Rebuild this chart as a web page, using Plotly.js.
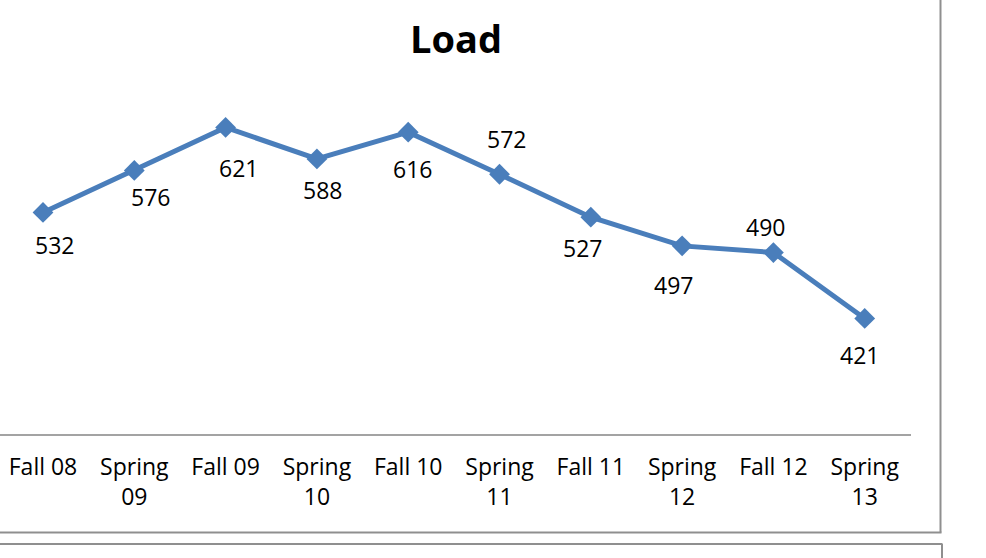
<!DOCTYPE html>
<html>
<head>
<meta charset="utf-8">
<script src="https://cdn.plot.ly/plotly-3.0.1.min.js"></script>
<style>html,body{margin:0;padding:0;background:#fff;}#chart{width:986px;height:558px;}</style>
</head>
<body>
<div id="chart"></div>
<script>
const categories = ["Fall 08", "Spring 09", "Fall 09", "Spring 10", "Fall 10", "Spring 11", "Fall 11", "Spring 12", "Fall 12", "Spring 13"];
const tickLabels = ["Fall 08", "Spring<br>09", "Fall 09", "Spring<br>10", "Fall 10", "Spring<br>11", "Fall 11", "Spring<br>12", "Fall 12", "Spring<br>13"];
const loadValues = [532, 576, 621, 588, 616, 572, 527, 497, 490, 421];

// label placement offsets (styling only), in pixels
const labelShiftX = [11, 16, 13, 6, 4, 7, -8, -9, -8, -5];
const labelShiftY = [-33, -27, -41, -31, -37, 35, -31, -39, 26, -37];

const W = 986, H = 558;
const m = {l: 0, r: 75, t: 52, b: 124};
const pw = W - m.l - m.r, ph = H - m.t - m.b;
const px = v => (v - m.l) / pw;
const py = v => (H - m.b - v) / ph;

const idx = categories.map((c, i) => i);
const lineColor = '#4a7ebb';
const font = 'Open Sans, Lato, sans-serif';

const trace = {
  x: idx,
  y: loadValues,
  type: 'scatter',
  mode: 'lines+markers',
  line: {color: lineColor, width: 5},
  marker: {symbol: 'diamond', size: 16, color: lineColor},
  hoverinfo: 'skip'
};

const annotations = loadValues.map((v, i) => ({
  x: i, y: v, xref: 'x', yref: 'y',
  text: String(v), showarrow: false,
  xshift: labelShiftX[i], yshift: labelShiftY[i],
  font: {family: font, size: 23, color: '#000'}
}));

const border = '#8f8f8f';
const shapes = [
  {type: 'line', xref: 'paper', yref: 'paper', x0: px(940.5), x1: px(940.5), y0: py(-5), y1: py(532.5), line: {color: border, width: 2}},
  {type: 'line', xref: 'paper', yref: 'paper', x0: px(-5), x1: px(941.5), y0: py(532.5), y1: py(532.5), line: {color: border, width: 2}},
  {type: 'line', xref: 'paper', yref: 'paper', x0: px(-5), x1: px(942.5), y0: py(544), y1: py(544), line: {color: border, width: 2}},
  {type: 'line', xref: 'paper', yref: 'paper', x0: px(942), x1: px(942), y0: py(544), y1: py(565), line: {color: border, width: 2}}
];

const layout = {
  width: W, height: H,
  margin: m,
  paper_bgcolor: '#fff', plot_bgcolor: '#fff',
  showlegend: false,
  title: {text: '<b>Load</b>', font: {family: font, size: 38, color: '#000'}, x: 456 / W, xanchor: 'center', y: 1 - 40 / H, yanchor: 'middle'},
  xaxis: {
    range: [-0.471, 9.507],
    tickvals: idx, ticktext: tickLabels,
    showgrid: false, zeroline: false,
    showline: true, linecolor: '#a3a3a3', linewidth: 1.5,
    ticks: '', ticklabelstandoff: 12,
    tickfont: {family: font, size: 23, color: '#000'},
    fixedrange: true
  },
  yaxis: {
    range: [300, 700],
    visible: false, showgrid: false, zeroline: false,
    fixedrange: true
  },
  annotations: annotations,
  shapes: shapes
};

Plotly.newPlot('chart', [trace], layout, {displayModeBar: false, staticPlot: true});
</script>
</body>
</html>
